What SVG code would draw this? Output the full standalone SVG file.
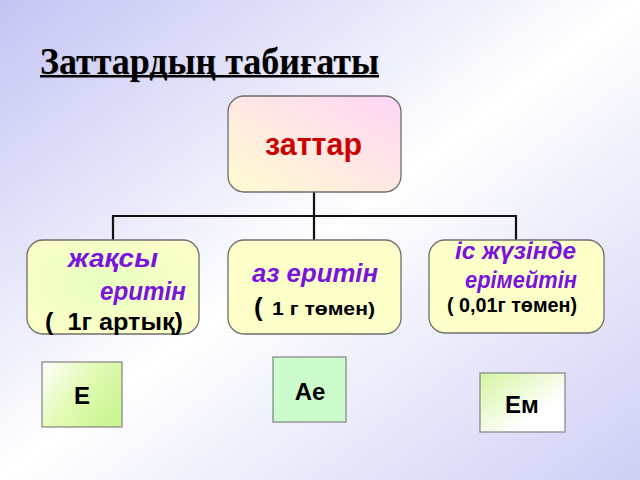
<svg xmlns="http://www.w3.org/2000/svg" width="640" height="480" viewBox="0 0 640 480">
<defs>
<linearGradient id="bg" x1="0" y1="0" x2="1" y2="1">
<stop offset="0" stop-color="#c4c4f4"/>
<stop offset="0.5" stop-color="#ffffff"/>
<stop offset="1" stop-color="#cfcff6"/>
</linearGradient>
<linearGradient id="topg" x1="0" y1="1" x2="1" y2="0">
<stop offset="0" stop-color="#fffcd0"/>
<stop offset="1" stop-color="#ffd4f6"/>
</linearGradient>
<radialGradient id="greeny" cx="0.45" cy="0.45" r="0.6">
<stop offset="0" stop-color="#e6ffc0"/>
<stop offset="1" stop-color="#fcffc8"/>
</radialGradient>
<linearGradient id="gE" x1="0" y1="0" x2="1" y2="0.6">
<stop offset="0" stop-color="#ffffff"/>
<stop offset="0.5" stop-color="#e4fbb8"/>
<stop offset="1" stop-color="#ccf594"/>
</linearGradient>
<linearGradient id="gEm" x1="0" y1="0" x2="1" y2="1">
<stop offset="0" stop-color="#d4f5a0"/>
<stop offset="0.7" stop-color="#ffffff"/>
<stop offset="1" stop-color="#ffffff"/>
</linearGradient>
</defs>
<style>
.box{stroke:#6e6e6e;stroke-width:1.3}
.sq{stroke:#8a8a8a;stroke-width:1.3}
.ln{stroke:#111;stroke-width:2.2;fill:none}
.pur{font-family:"Liberation Sans",Arial,sans-serif;font-weight:bold;font-style:italic;fill:#7a14dc}
.blk{font-family:"Liberation Sans",Arial,sans-serif;font-weight:bold;fill:#000}
.pre{white-space:pre}
</style>
<rect width="640" height="480" fill="url(#bg)"/>
<g id="title">
<text x="41" y="75" font-family="Liberation Serif,Times New Roman,serif" font-weight="bold" font-size="38" fill="#999" opacity="0.3" textLength="339" lengthAdjust="spacingAndGlyphs">Заттардың табиғаты</text>
<text x="40" y="74" font-family="Liberation Serif,Times New Roman,serif" font-weight="bold" font-size="38" fill="#000" textLength="339" lengthAdjust="spacingAndGlyphs">Заттардың табиғаты</text>
<rect x="40" y="75" width="339" height="2.5" fill="#000"/>
</g>
<g id="connectors">
<path class="ln" d="M314 192 V240 M113 240 V216 H516 V240"/>
</g>
<g id="n-zattar">
<rect class="box" x="228" y="96" width="173" height="96" rx="16" fill="url(#topg)"/>
<text x="265" y="155" font-family="Liberation Sans,Arial,sans-serif" font-weight="bold" font-size="31" fill="#cc0000" textLength="97" lengthAdjust="spacingAndGlyphs">заттар</text>
</g>
<g id="n-jaksy">
<rect class="box" x="27" y="240" width="172" height="94" rx="16" fill="url(#greeny)"/>
<text class="pur" x="68" y="267" font-size="25" textLength="90" lengthAdjust="spacingAndGlyphs">жақсы</text>
<text class="pur" x="100" y="300" font-size="25" textLength="86" lengthAdjust="spacingAndGlyphs">еритін</text>
<text class="blk pre" x="45" y="330" font-size="23" textLength="138" lengthAdjust="spacingAndGlyphs">(  1г артық)</text>
</g>
<g id="n-az">
<rect class="box" x="228" y="240" width="173" height="94" rx="16" fill="#fdffc8"/>
<text class="pur" x="252" y="282" font-size="25" textLength="126" lengthAdjust="spacingAndGlyphs">аз еритін</text>
<text class="blk" x="254" y="316" font-size="26">(</text>
<text class="blk" x="272" y="315" font-size="18" textLength="103" lengthAdjust="spacingAndGlyphs">1 г төмен)</text>
</g>
<g id="n-is">
<rect class="box" x="429" y="240" width="175" height="93" rx="16" fill="#fdffc8"/>
<text class="pur" x="455" y="259" font-size="24" textLength="121" lengthAdjust="spacingAndGlyphs">іс жүзінде</text>
<text class="pur" x="465" y="288" font-size="24" textLength="112" lengthAdjust="spacingAndGlyphs">ерімейтін</text>
<text class="blk" x="447" y="312" font-size="21" textLength="130" lengthAdjust="spacingAndGlyphs">( 0,01г төмен)</text>
</g>
<g id="n-E">
<rect class="sq" x="42" y="362" width="80" height="65" fill="url(#gE)"/>
<text class="blk" x="82" y="404" text-anchor="middle" font-size="24">Е</text>
</g>
<g id="n-Ae">
<rect class="sq" x="273" y="357" width="73" height="65" fill="#ccfccc"/>
<text class="blk" x="310" y="400" text-anchor="middle" font-size="24">Ае</text>
</g>
<g id="n-Em">
<rect class="sq" x="480" y="373" width="85" height="59" fill="url(#gEm)"/>
<text class="blk" x="522" y="413" text-anchor="middle" font-size="24">Ем</text>
</g>
</svg>
